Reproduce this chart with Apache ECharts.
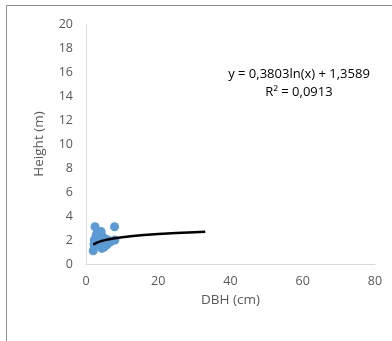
<!DOCTYPE html>
<html><head><meta charset="utf-8">
<script src="https://cdn.jsdelivr.net/npm/echarts@6/dist/echarts.min.js"></script>
<style>html,body{margin:0;padding:0;background:#fff}#c{width:392px;height:341px}</style>
</head><body><div id="c"></div>
<script>
const dbh    = [2.0, 2.2, 2.5, 2.3, 2.8, 3.0, 3.2, 3.5, 3.8, 4.0, 4.2, 4.5, 4.8, 5.0, 5.2, 5.5, 6.0, 6.5, 7.0, 7.9, 8.0, 3.0, 2.6, 5.8, 4.4];
const height = [1.1, 1.6, 3.1, 2.0, 2.4, 1.8, 2.2, 2.6, 2.0, 1.5, 2.7, 2.3, 1.9, 1.4, 2.1, 1.7, 2.0, 1.8, 1.9, 3.1, 2.0, 2.5, 1.9, 1.6, 1.3];
const trendX = [2, 3, 4, 5, 6, 8, 10, 13, 16, 20, 25, 30, 33];
const trendY = [1.62, 1.78, 1.89, 1.97, 2.04, 2.15, 2.23, 2.33, 2.41, 2.50, 2.58, 2.65, 2.69];
const eqLine1 = 'y = 0,3803ln(x) + 1,3589';
const eqLine2 = 'R² = 0,0913';

const chart = echarts.init(document.getElementById('c'));
const font = '"Open Sans", "Liberation Sans", sans-serif';
const txt = '#595959';
chart.setOption({
  animation: false,
  grid: {left: 86, top: 24, right: 17, bottom: 77},
  xAxis: {
    type: 'value', min: 0, max: 80, interval: 20,
    name: 'DBH (cm)', nameLocation: 'middle', nameGap: 29,
    nameTextStyle: {color: txt, fontSize: 13.5, fontFamily: font},
    axisLine: {show: true, lineStyle: {color: '#d9d9d9', width: 1}},
    axisTick: {show: false}, splitLine: {show: false},
    axisLabel: {color: txt, fontSize: 12.5, fontFamily: font, margin: 11}
  },
  yAxis: {
    type: 'value', min: 0, max: 20, interval: 2,
    name: 'Height (m)', nameLocation: 'middle', nameGap: 40,
    nameTextStyle: {color: txt, fontSize: 13.5, fontFamily: font},
    axisLine: {show: true, lineStyle: {color: '#d9d9d9', width: 1}},
    axisTick: {show: false}, splitLine: {show: false},
    axisLabel: {color: txt, fontSize: 12.5, fontFamily: font, margin: 13}
  },
  graphic: [
    {type: 'rect', shape: {x: 6.5, y: 5.5, width: 420, height: 420}, style: {fill: 'none', stroke: '#8c8c8c', lineWidth: 1}, z: -1},
    {type: 'text', style: {text: eqLine1, x: 299, y: 74, align: 'center', verticalAlign: 'middle', fill: '#000', font: '13px ' + font}},
    {type: 'text', style: {text: eqLine2, x: 299, y: 92, align: 'center', verticalAlign: 'middle', fill: '#000', font: '13px ' + font}}
  ],
  series: [
    {type: 'scatter', data: dbh.map((x, i) => [x, height[i]]), symbolSize: 9,
     itemStyle: {color: '#5b9bd5', opacity: 1}},
    {type: 'line', data: trendX.map((x, i) => [x, trendY[i]]), showSymbol: false, symbol: 'none',
     lineStyle: {color: '#000', width: 2.5}, z: 3}
  ]
});
</script></body></html>
